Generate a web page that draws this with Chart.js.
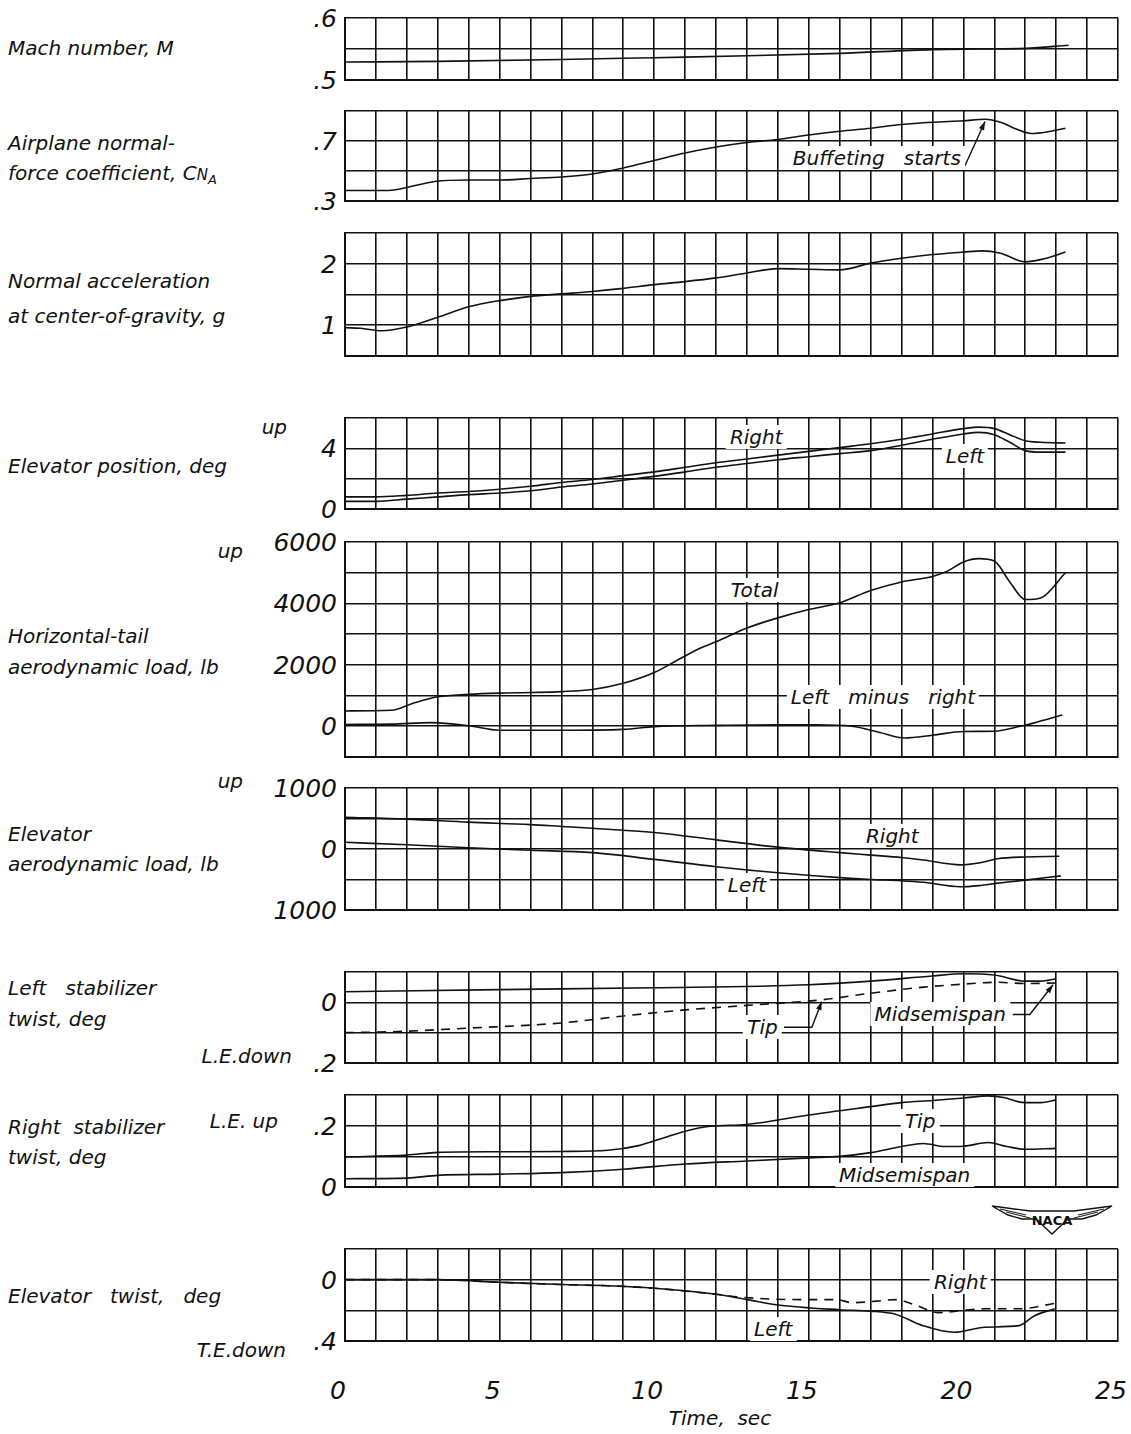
<!DOCTYPE html>
<html>
<head>
<meta charset="utf-8">
<title>Time history of flight quantities</title>
<script src="https://cdn.jsdelivr.net/npm/chart.js@4.4.1/dist/chart.umd.min.js"></script>
<style>
  html, body { margin: 0; padding: 0; background: #fff; }
  #page {
    position: relative; width: 1131px; height: 1434px; overflow: hidden;
    font-family: "DejaVu Sans", "Liberation Sans", sans-serif;
    font-style: italic; color: #111;
  }
  .panel { position: absolute; }
  .txt { position: absolute; white-space: pre; font-size: 20px; line-height: 1; transform: translateY(-50%); }
  .rt { position: absolute; white-space: pre; font-size: 20px; line-height: 1; transform: translate(-100%, -50%); }
  .tick { position: absolute; white-space: pre; font-size: 25px; line-height: 1; transform: translate(-100%, -50%); }
  .xtick { position: absolute; white-space: pre; font-size: 25px; line-height: 1; transform: translate(-50%, -50%); }
  .note { position: absolute; white-space: pre; font-size: 20px; line-height: 1; background: #fff; padding: 2px 4px; transform: translate(-50%, -50%); }
  .sm { font-size: 15px; }
  .sb { font-size: 13px; vertical-align: -4px; }
</style>
</head>
<body>
<div id="page"></div>
<script>
// ---- Recorded time histories (time in seconds) ----
const machTime  = [0, 3, 7, 10, 13, 16, 19, 20.5, 22, 23.4];
const machValue = [0.529, 0.530, 0.533, 0.536, 0.539, 0.543, 0.549, 0.550, 0.551, 0.556];

const cnaTime  = [0, 1.4, 2.2, 2.9, 4, 5, 6, 7, 8, 9, 10, 11, 12, 13, 14, 15, 16, 17, 18, 19, 20, 20.7, 21.2, 21.7, 22.2, 22.7, 23.3];
const cnaValue = [0.37, 0.37, 0.40, 0.43, 0.44, 0.44, 0.45, 0.46, 0.48, 0.52, 0.57, 0.62, 0.66, 0.69, 0.71, 0.74, 0.765, 0.785, 0.81, 0.825, 0.835, 0.845, 0.825, 0.78, 0.75, 0.76, 0.785];

const accelTime  = [0, 0.5, 1.2, 2, 3, 4, 5, 6, 7, 8, 9, 10, 11, 12, 13, 14, 15, 16, 17, 18, 19, 20, 20.6, 21.2, 22, 22.6, 23.3];
const accelValue = [0.96, 0.95, 0.91, 0.97, 1.13, 1.30, 1.40, 1.47, 1.51, 1.55, 1.60, 1.66, 1.71, 1.77, 1.85, 1.92, 1.91, 1.90, 2.01, 2.09, 2.15, 2.19, 2.21, 2.17, 2.03, 2.08, 2.19];

const elevPosRightTime  = [0, 1, 2, 3, 4, 5, 6, 7, 8, 9, 10, 11, 12, 13, 14, 15, 16, 17, 18, 19, 20, 20.5, 21, 21.5, 22, 22.5, 23.3];
const elevPosRightValue = [0.8, 0.8, 0.9, 1.05, 1.15, 1.3, 1.5, 1.75, 1.95, 2.2, 2.45, 2.75, 3.05, 3.3, 3.55, 3.8, 4.05, 4.3, 4.6, 4.95, 5.3, 5.4, 5.3, 4.9, 4.5, 4.4, 4.35];
const elevPosLeftTime   = [0, 1, 2, 3, 4, 5, 6, 7, 8, 9, 10, 11, 12, 13, 14, 15, 16, 17, 18, 19, 20, 20.5, 21, 21.5, 22, 22.5, 23.3];
const elevPosLeftValue  = [0.5, 0.5, 0.65, 0.8, 0.95, 1.05, 1.2, 1.45, 1.65, 1.9, 2.15, 2.45, 2.75, 3.0, 3.25, 3.45, 3.65, 3.85, 4.2, 4.6, 4.95, 5.05, 4.9, 4.4, 3.85, 3.75, 3.75];

const tailTotalTime  = [0, 1.5, 2.2, 3, 4, 5, 6, 7, 8, 9, 10, 10.8, 11.5, 12, 13, 14, 15, 16, 17, 18, 19, 19.5, 20, 20.5, 21, 21.5, 22, 22.5, 23.3];
const tailTotalValue = [500, 520, 750, 960, 1040, 1080, 1100, 1130, 1200, 1400, 1750, 2180, 2550, 2750, 3200, 3530, 3800, 4020, 4420, 4700, 4880, 5060, 5350, 5460, 5380, 4700, 4130, 4180, 5000];
const tailDiffTime   = [0, 1.5, 2.8, 4, 5, 7, 9, 10, 12, 14, 15.2, 16.4, 17.3, 18.1, 19, 20, 21, 21.8, 22.5, 23.2];
const tailDiffValue  = [60, 70, 120, 20, -130, -130, -100, -10, 30, 50, 50, 0, -200, -380, -290, -170, -160, -10, 170, 370];

const elevLoadRightTime  = [0, 2, 4, 6, 7, 8, 10, 12, 14, 16, 17, 18, 18.7, 19.9, 20.5, 21.1, 22, 23.1];
const elevLoadRightValue = [520, 490, 440, 400, 370, 340, 270, 150, 30, -60, -100, -140, -180, -260, -230, -160, -130, -120];
const elevLoadLeftTime   = [0, 2, 4, 6, 8, 10, 12, 14, 16, 17, 18, 18.7, 19.9, 20.5, 21.1, 22, 23.15];
const elevLoadLeftValue  = [110, 70, 20, -20, -60, -170, -290, -390, -470, -500, -520, -545, -620, -600, -560, -510, -440];

const leftStabMidTime  = [0, 5, 10, 15, 17, 19, 20, 21, 22, 22.5, 23];
const leftStabMidValue = [0.035, 0.042, 0.048, 0.058, 0.07, 0.087, 0.094, 0.09, 0.07, 0.07, 0.078];
const leftStabTipTime  = [0, 1.5, 4, 7, 9, 11, 13, 15.4, 17, 18.7, 20, 21.1, 22, 23.1];
const leftStabTipValue = [-0.1, -0.097, -0.085, -0.068, -0.045, -0.025, -0.01, 0.008, 0.03, 0.05, 0.06, 0.066, 0.062, 0.064];

const rightStabTipTime  = [0, 2, 3, 5, 7, 8.5, 9.5, 10.3, 11, 11.8, 13, 15, 17, 18, 19, 20, 20.8, 21.3, 21.9, 22.5, 23];
const rightStabTipValue = [0.098, 0.104, 0.113, 0.115, 0.116, 0.12, 0.135, 0.16, 0.182, 0.198, 0.204, 0.235, 0.262, 0.275, 0.282, 0.29, 0.297, 0.292, 0.276, 0.275, 0.284];
const rightStabMidTime  = [0, 2, 3, 5, 7, 9, 11, 13, 15, 16, 17, 18, 18.7, 19.4, 20, 20.8, 21.4, 22, 23];
const rightStabMidValue = [0.027, 0.029, 0.038, 0.042, 0.047, 0.058, 0.075, 0.085, 0.095, 0.1, 0.112, 0.132, 0.142, 0.132, 0.133, 0.145, 0.132, 0.123, 0.126];

const elevTwistLeftTime   = [0, 3, 5, 7, 8.5, 10, 12, 13, 14, 16, 17, 17.8, 18.7, 19.7, 20.7, 21.8, 22.3, 22.95];
const elevTwistLeftValue  = [0, 0, -0.017, -0.032, -0.04, -0.056, -0.095, -0.13, -0.165, -0.196, -0.205, -0.225, -0.3, -0.343, -0.31, -0.3, -0.235, -0.19];
const elevTwistRightTime  = [0, 3, 5, 7, 8.5, 10, 12, 12.85, 14.7, 15.9, 16.4, 17.2, 17.8, 18.5, 19.2, 20, 20.7, 21.8, 22.95];
const elevTwistRightValue = [0, 0, -0.017, -0.032, -0.04, -0.056, -0.095, -0.115, -0.13, -0.13, -0.15, -0.14, -0.13, -0.17, -0.215, -0.2, -0.19, -0.19, -0.155];

// ---- Axis tick labels ----
const timeTicks = [0, 5, 10, 15, 20, 25];
const machTicks = [0.6, 0.5],            machTickText = ['.6', '.5'];
const cnaTicks = [0.7, 0.3],             cnaTickText = ['.7', '.3'];
const accelTicks = [2, 1],               accelTickText = ['2', '1'];
const elevPosTicks = [4, 0],             elevPosTickText = ['4', '0'];
const tailTicks = [6000, 4000, 2000, 0], tailTickText = ['6000', '4000', '2000', '0'];
const elevLoadTicks = [1000, 0, -1000],  elevLoadTickText = ['1000', '0', '1000'];
const leftStabTicks = [0, -0.2],         leftStabTickText = ['0', '.2'];
const rightStabTicks = [0.2, 0],         rightStabTickText = ['.2', '0'];
const elevTwistTicks = [0, -0.4],        elevTwistTickText = ['0', '.4'];

// ---- Layout ----
const X_LEFT = 345, X_WIDTH = 773, PAD = 3;
const INK = '#111';

const panels = [
  { top: 18, height: 62, min: 0.5, max: 0.6, step: 0.05, ticks: machTicks, tickText: machTickText,
    series: [{ t: machTime, v: machValue }] },
  { top: 111, height: 90, min: 0.3, max: 0.9, step: 0.2, ticks: cnaTicks, tickText: cnaTickText,
    series: [{ t: cnaTime, v: cnaValue }],
    notes: [{ text: 'Buffeting   starts', t: 17.2, v: 0.585 }],
    leaders: [[[20.05, 0.535], [20.7, 0.83]]] },
  { top: 233, height: 123, min: 0.5, max: 2.5, step: 0.5, ticks: accelTicks, tickText: accelTickText,
    series: [{ t: accelTime, v: accelValue }] },
  { top: 418, height: 91, min: 0, max: 6, step: 2, ticks: elevPosTicks, tickText: elevPosTickText,
    series: [{ t: elevPosRightTime, v: elevPosRightValue }, { t: elevPosLeftTime, v: elevPosLeftValue }],
    notes: [{ text: 'Right', t: 13.3, v: 4.75 }, { text: 'Left', t: 20.05, v: 3.5 }] },
  { top: 542, height: 215, min: -1000, max: 6000, step: 1000, ticks: tailTicks, tickText: tailTickText,
    series: [{ t: tailTotalTime, v: tailTotalValue }, { t: tailDiffTime, v: tailDiffValue }],
    notes: [{ text: 'Total', t: 13.25, v: 4450 }, { text: 'Left   minus   right', t: 17.4, v: 950 }] },
  { top: 788, height: 122, min: -1000, max: 1000, step: 500, ticks: elevLoadTicks, tickText: elevLoadTickText,
    series: [{ t: elevLoadRightTime, v: elevLoadRightValue }, { t: elevLoadLeftTime, v: elevLoadLeftValue }],
    notes: [{ text: 'Right', t: 17.7, v: 210 }, { text: 'Left', t: 13.0, v: -590 }] },
  { top: 972, height: 91, min: -0.2, max: 0.1, step: 0.1, ticks: leftStabTicks, tickText: leftStabTickText,
    series: [{ t: leftStabMidTime, v: leftStabMidValue }, { t: leftStabTipTime, v: leftStabTipValue, dash: [9, 7] }],
    notes: [{ text: 'Tip', t: 13.5, v: -0.082 }, { text: 'Midsemispan', t: 19.25, v: -0.038 }],
    leaders: [[[14.2, -0.082], [15.1, -0.082], [15.42, 0.003]], [[21.6, -0.04], [22.15, -0.04], [22.9, 0.058]]] },
  { top: 1095, height: 92, min: 0, max: 0.3, step: 0.1, ticks: rightStabTicks, tickText: rightStabTickText,
    series: [{ t: rightStabTipTime, v: rightStabTipValue }, { t: rightStabMidTime, v: rightStabMidValue }],
    notes: [{ text: 'Tip', t: 18.6, v: 0.215 }, { text: 'Midsemispan', t: 18.1, v: 0.039 }] },
  { top: 1249, height: 92, min: -0.4, max: 0.2, step: 0.2, ticks: elevTwistTicks, tickText: elevTwistTickText,
    series: [{ t: elevTwistLeftTime, v: elevTwistLeftValue }, { t: elevTwistRightTime, v: elevTwistRightValue, dash: [9, 7] }],
    notes: [{ text: 'Right', t: 19.9, v: -0.012 }, { text: 'Left', t: 13.85, v: -0.32 }] }
];

// Quantity names and units on the left
const sideText = [
  { x: 8, y: 48, html: 'Mach number, M' },
  { x: 8, y: 143, html: 'Airplane normal-' },
  { x: 8, y: 174, html: 'force coefficient, C<span class="sm">N</span><span class="sb">A</span>' },
  { x: 8, y: 281, html: 'Normal acceleration' },
  { x: 8, y: 316, html: 'at center-of-gravity, g' },
  { x: 8, y: 466, html: 'Elevator position, deg' },
  { x: 8, y: 636, html: 'Horizontal-tail' },
  { x: 8, y: 667, html: 'aerodynamic load, lb' },
  { x: 8, y: 834, html: 'Elevator' },
  { x: 8, y: 864, html: 'aerodynamic load, lb' },
  { x: 8, y: 988, html: 'Left   stabilizer' },
  { x: 8, y: 1019, html: 'twist, deg' },
  { x: 8, y: 1127, html: 'Right  stabilizer' },
  { x: 8, y: 1157, html: 'twist, deg' },
  { x: 8, y: 1296, html: 'Elevator   twist,   deg' }
];
const sideTextRight = [
  { x: 287, y: 427, text: 'up' },
  { x: 243, y: 551, text: 'up' },
  { x: 243, y: 781, text: 'up' },
  { x: 292, y: 1056, text: 'L.E.down' },
  { x: 278, y: 1121, text: 'L.E. up' },
  { x: 286, y: 1350, text: 'T.E.down' }
];

const page = document.getElementById('page');

function toPoints(t, v) { return t.map((x, i) => ({ x, y: v[i] })); }

function addDiv(cls, left, top, html) {
  const d = document.createElement('div');
  d.className = cls;
  d.style.left = left + 'px';
  d.style.top = top + 'px';
  d.innerHTML = html;
  page.appendChild(d);
  return d;
}

// Leader lines with arrowheads, in data coordinates
const leaderPlugin = {
  id: 'leaders',
  afterDatasetsDraw(chart, args, opts) {
    const lines = opts.lines || [];
    const { ctx } = chart;
    const xs = chart.scales.x, ys = chart.scales.y;
    lines.forEach(line => {
      const p = line.map(([t, v]) => [xs.getPixelForValue(t), ys.getPixelForValue(v)]);
      ctx.save();
      ctx.strokeStyle = INK; ctx.fillStyle = INK; ctx.lineWidth = 1.4;
      ctx.beginPath();
      p.forEach(([px, py], k) => (k ? ctx.lineTo(px, py) : ctx.moveTo(px, py)));
      ctx.stroke();
      const [ax, ay] = p[p.length - 2], [bx, by] = p[p.length - 1];
      const ang = Math.atan2(by - ay, bx - ax);
      const L = 9, W = 0.32;
      ctx.beginPath();
      ctx.moveTo(bx, by);
      ctx.lineTo(bx - L * Math.cos(ang - W), by - L * Math.sin(ang - W));
      ctx.lineTo(bx - L * Math.cos(ang + W), by - L * Math.sin(ang + W));
      ctx.closePath();
      ctx.fill();
      ctx.restore();
    });
  }
};

let lastChart = null, lastBox = null;

panels.forEach(p => {
  const box = document.createElement('div');
  box.className = 'panel';
  const bl = X_LEFT - PAD, bt = p.top - PAD;
  box.style.left = bl + 'px';
  box.style.top = bt + 'px';
  box.style.width = (X_WIDTH + 2 * PAD) + 'px';
  box.style.height = (p.height + 2 * PAD) + 'px';
  const cv = document.createElement('canvas');
  box.appendChild(cv);
  page.appendChild(box);

  const gridStyle = { color: INK, lineWidth: 1.6, drawTicks: false };
  const chart = new Chart(cv, {
    type: 'line',
    data: {
      datasets: p.series.map(s => ({
        data: toPoints(s.t, s.v),
        borderColor: INK,
        borderWidth: 1.6,
        borderDash: s.dash || [],
        pointRadius: 0,
        fill: false,
        cubicInterpolationMode: 'monotone'
      }))
    },
    options: {
      responsive: true, maintainAspectRatio: false, animation: false, events: [],
      layout: { padding: PAD },
      plugins: { legend: { display: false }, tooltip: { enabled: false }, leaders: { lines: p.leaders || [] } },
      scales: {
        x: {
          type: 'linear', min: 0, max: 25,
          ticks: { display: false, stepSize: 1 },
          grid: gridStyle, border: { color: INK, width: 2 }
        },
        y: {
          type: 'linear', min: p.min, max: p.max,
          ticks: { display: false, stepSize: p.step },
          grid: gridStyle, border: { color: INK, width: 2 },
          afterBuildTicks: scale => {
            const n = Math.round((p.max - p.min) / p.step);
            const out = [];
            for (let k = 0; k <= n; k++) out.push({ value: +(p.min + k * p.step).toFixed(6) });
            scale.ticks = out;
          }
        }
      }
    },
    plugins: [leaderPlugin]
  });

  const ys = chart.scales.y, xs = chart.scales.x;
  p.ticks.forEach((val, i) => {
    addDiv('tick', 337, bt + ys.getPixelForValue(val), p.tickText[i]);
  });
  (p.notes || []).forEach(n => {
    addDiv('note', bl + xs.getPixelForValue(n.t), bt + ys.getPixelForValue(n.v), n.text);
  });
  lastChart = chart; lastBox = { left: bl, top: bt };
});

// Time axis labels under the bottom panel
timeTicks.forEach(t => {
  addDiv('xtick', lastBox.left + lastChart.scales.x.getPixelForValue(t) - 7, 1390, String(t));
});
addDiv('xtick', 720, 1418, 'Time,  sec').style.fontSize = '20px';

sideText.forEach(s => addDiv('txt', s.x, s.y, s.html));
sideTextRight.forEach(s => addDiv('rt', s.x, s.y, s.text));

// Insignia beside the lower panels
const logo = document.createElement('div');
logo.style.cssText = 'position:absolute;left:990px;top:1203px;width:124px;height:36px;';
logo.innerHTML =
  '<svg width="124" height="36" viewBox="0 0 124 36">' +
  '<path d="M2 3 L40 8 L84 8 L122 3 L106 12 L92 16 L78 16 L62 31 L46 16 L32 16 L18 12 Z" fill="none" stroke="#111" stroke-width="1.4"/>' +
  '<path d="M10 6 L36 12 M114 6 L88 12 M16 9 L40 15 M108 9 L84 15" stroke="#111" stroke-width="1"/>' +
  '<text x="62" y="22" text-anchor="middle" font-family="DejaVu Sans" font-weight="bold" font-style="normal" font-size="13" fill="#111">NACA</text>' +
  '</svg>';
page.appendChild(logo);
</script>
</body>
</html>
